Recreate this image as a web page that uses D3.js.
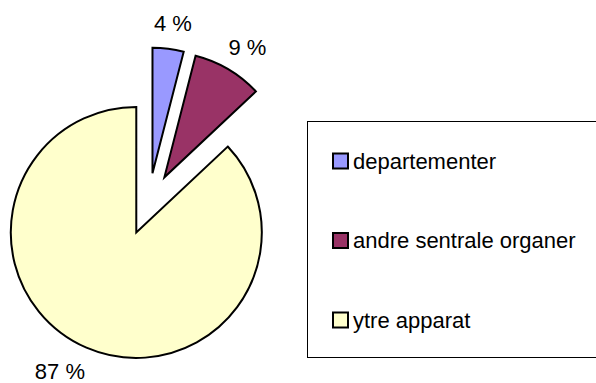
<!DOCTYPE html>
<html>
<head>
<meta charset="utf-8">
<script src="https://cdn.jsdelivr.net/npm/d3@7"></script>
<style>
  html, body { margin: 0; padding: 0; background: #fff; }
  svg { display: block; }
  text { font-family: Arial, "Liberation Sans", Helvetica, sans-serif; fill: #000; }
</style>
</head>
<body>
<svg id="chart" width="596" height="383"></svg>
<script>
// Share of staff by part of the administration (percent)
const categories = ["departementer", "andre sentrale organer", "ytre apparat"];
const shares = [4, 9, 87];
const colors = ["#9999FF", "#993366", "#FFFFCC"];

const width = 596, height = 383;
const cx = 148.6, cy = 204;
const radius = 125.5;
const explode = 31;
const fontSize = 22;

const svg = d3.select("#chart");

const pie = d3.pie().sort(null).value(d => d).startAngle(0).endAngle(2 * Math.PI);
const arc = d3.arc().innerRadius(0).outerRadius(radius);
const color = d3.scaleOrdinal().domain(categories).range(colors);

const slices = pie(shares).map((d, i) => {
  const mid = (d.startAngle + d.endAngle) / 2;
  return { ...d, name: categories[i], dx: Math.sin(mid), dy: -Math.cos(mid) };
});

const g = svg.append("g").attr("transform", `translate(${cx},${cy})`);

// Every slice pulled out from the centre along its mid-angle
g.selectAll("path.slice")
  .data(slices)
  .join("path")
  .attr("class", "slice")
  .attr("transform", d => `translate(${d.dx * explode},${d.dy * explode})`)
  .attr("d", arc)
  .attr("fill", d => color(d.name))
  .attr("stroke", "#000")
  .attr("stroke-width", 2)
  .attr("stroke-linejoin", "miter");

// Percentage labels outside each slice, set on an ellipse that widens with the label
const labels = g.selectAll("text.pct")
  .data(slices)
  .join("text")
  .attr("class", "pct")
  .attr("font-size", fontSize)
  .attr("text-anchor", "middle")
  .attr("dy", "0.35em")
  .text(d => `${d.data} %`);

labels.each(function(d) {
  const w = this.getComputedTextLength();
  const rx = 103 + 2.4 * w;
  const ry = 182;
  d3.select(this).attr("x", d.dx * rx).attr("y", d.dy * ry);
});

// Legend
const legend = svg.append("g");
const lx = 307.5, ly = 121.5, lw = 300, lh = 236;
legend.append("rect")
  .attr("x", lx).attr("y", ly).attr("width", lw).attr("height", lh)
  .attr("fill", "#fff").attr("stroke", "#000").attr("stroke-width", 1);

const rowY = d3.scalePoint().domain(categories).range([161, 320]);

const items = legend.selectAll("g.item")
  .data(categories)
  .join("g")
  .attr("class", "item")
  .attr("transform", d => `translate(0,${rowY(d)})`);

items.append("rect")
  .attr("x", 333).attr("y", -7.5).attr("width", 15).attr("height", 15)
  .attr("fill", d => color(d))
  .attr("stroke", "#000").attr("stroke-width", 2);

items.append("text")
  .attr("x", 353).attr("y", 0).attr("dy", "0.35em")
  .attr("font-size", fontSize)
  .text(d => d);
</script>
</body>
</html>
